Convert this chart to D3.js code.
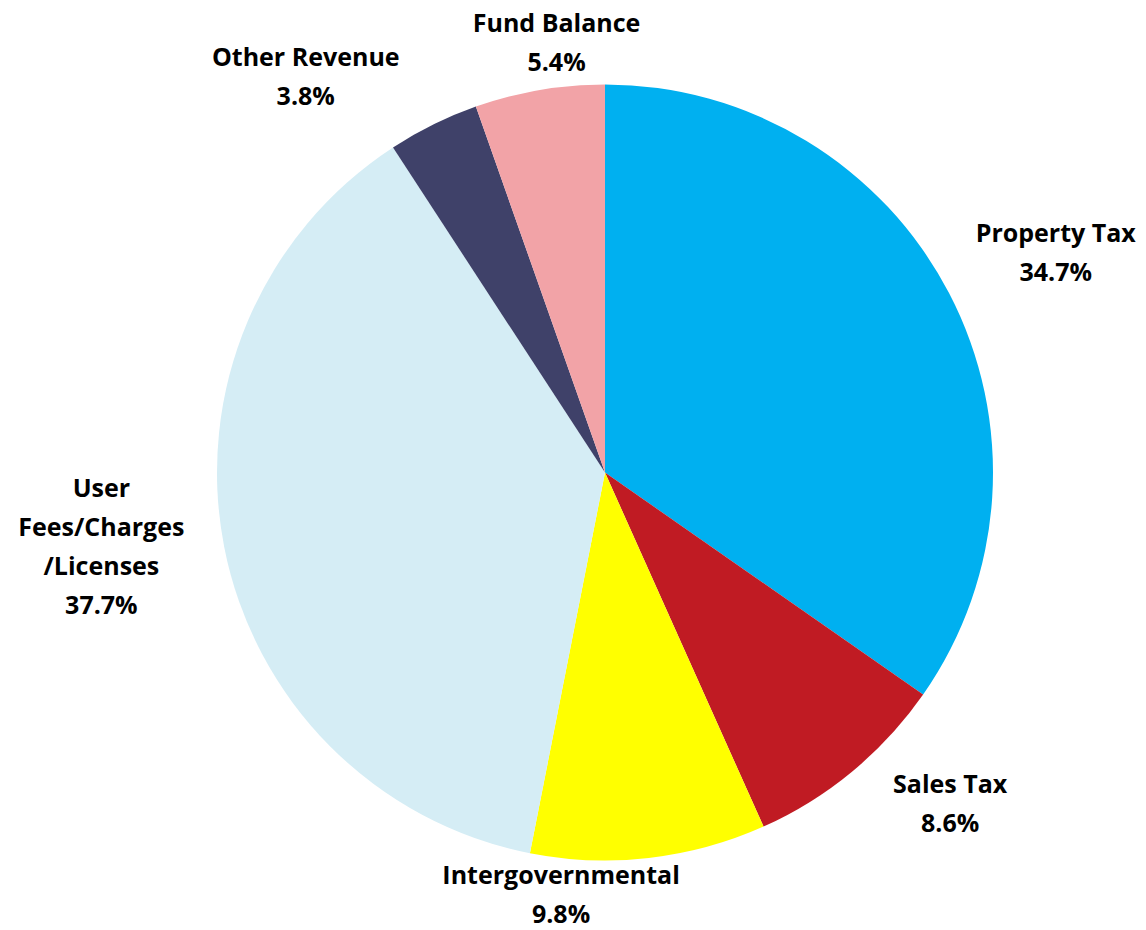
<!DOCTYPE html>
<html>
<head>
<meta charset="utf-8">
<script src="https://cdn.jsdelivr.net/npm/d3@7"></script>
<style>
  html, body { margin: 0; padding: 0; background: #fff; }
  svg text { font-family: "Open Sans", Lato, sans-serif; font-weight: 700; fill: #000; }
</style>
</head>
<body>
<svg id="chart" width="1146" height="930"></svg>
<script>
// Revenue sources, in clockwise order from 12 o'clock
const categories = ["Property Tax", "Sales Tax", "Intergovernmental", "User Fees/Charges/Licenses", "Other Revenue", "Fund Balance"];
const labelLines = [["Property Tax"], ["Sales Tax"], ["Intergovernmental"], ["User", "Fees/Charges", "/Licenses"], ["Other Revenue"], ["Fund Balance"]];
const shares = [34.7, 8.6, 9.8, 37.7, 3.8, 5.4];
const colors = ["#00B0F0", "#C01B23", "#FFFF00", "#D5EDF5", "#3F4169", "#F2A3A7"];
// label turn away from the slice bisector (degrees), to keep neighbours apart
const labelTurn = [1.5, -6.6, 12, 2.6, -10.8, 3.6];

const W = 1146, H = 930;
const cx = 605, cy = 472.5, radius = 388;
const fontSize = 25, capH = fontSize * 0.714, lineH = 39.2, gap = 29;
const topLimit = 14, bottomLimit = 923;

const svg = d3.select("#chart");
const data = categories.map((c, i) => ({ name: c, lines: labelLines[i], value: shares[i], color: colors[i], turn: labelTurn[i] }));

const pie = d3.pie().value(d => d.value).sort(null);
const arc = d3.arc().innerRadius(0).outerRadius(radius);
const arcs = pie(data);

const g = svg.append("g").attr("transform", `translate(${cx},${cy})`);
g.selectAll("path")
  .data(arcs)
  .join("path")
  .attr("d", arc)
  .attr("fill", d => d.data.color);

// Outside-end labels: box pushed outward along the slice bisector, kept inside the canvas
const fmt = d3.format(".1f");
arcs.forEach(a => {
  const lines = a.data.lines.concat([fmt(a.data.value) + "%"]);
  const t = svg.append("text").attr("font-size", fontSize).attr("text-anchor", "middle");
  lines.forEach((s, k) => t.append("tspan").attr("x", 0).attr("dy", k === 0 ? 0 : lineH).text(s));
  const w = t.node().getBBox().width;
  const h = (lines.length - 1) * lineH + capH;
  const ang = (a.startAngle + a.endAngle) / 2 + a.data.turn * Math.PI / 180;
  const s = Math.sin(ang), c = Math.cos(ang);
  const d = radius + gap + Math.abs(s) * w / 2 + Math.abs(c) * h / 2;
  const mx = cx + s * d;
  const my = Math.max(topLimit + h / 2, Math.min(bottomLimit - h / 2, cy - c * d));
  t.attr("transform", `translate(${mx},${my - h / 2 + capH})`);
});
</script>
</body>
</html>
